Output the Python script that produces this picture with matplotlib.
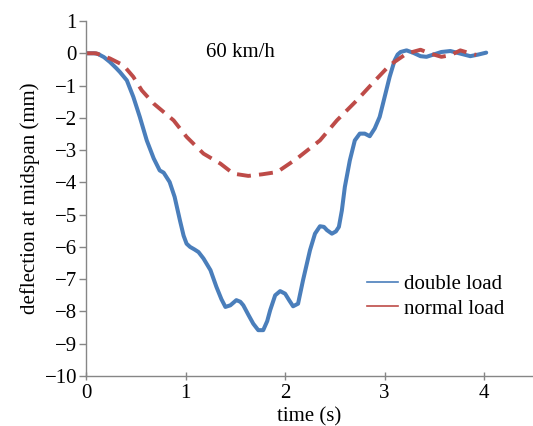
import numpy as np
import matplotlib.pyplot as plt
from matplotlib.lines import Line2D

plt.rcParams['font.family'] = ['Liberation Serif', 'DejaVu Serif']

# double load response (time in s, deflection in mm)
t_double = [0.0, 0.08, 0.12, 0.18, 0.24, 0.30, 0.34, 0.41, 0.475, 0.54, 0.61, 0.68,
            0.74, 0.78, 0.84, 0.89, 0.945, 0.98, 1.01, 1.045, 1.09, 1.13, 1.18,
            1.25, 1.31, 1.36, 1.40, 1.45, 1.51, 1.55, 1.58, 1.63, 1.68, 1.73,
            1.78, 1.82, 1.85, 1.90, 1.95, 2.00, 2.04, 2.08, 2.13, 2.18, 2.25,
            2.30, 2.35, 2.39, 2.42, 2.47, 2.51, 2.54, 2.57, 2.60, 2.65, 2.70,
            2.75, 2.80, 2.85, 2.90, 2.95, 3.00, 3.05, 3.10, 3.13, 3.16, 3.22,
            3.29, 3.36, 3.42, 3.49, 3.57, 3.66, 3.76, 3.86, 3.94, 4.02]
d_double = [0.0, 0.0, -0.02, -0.12, -0.27, -0.45, -0.58, -0.84, -1.35, -1.97, -2.70, -3.26,
            -3.63, -3.70, -3.99, -4.45, -5.20, -5.65, -5.90, -6.00, -6.08, -6.16, -6.36,
            -6.72, -7.24, -7.62, -7.86, -7.81, -7.65, -7.70, -7.81, -8.10, -8.38, -8.58,
            -8.58, -8.30, -7.96, -7.50, -7.37, -7.45, -7.65, -7.84, -7.76, -7.03, -6.10,
            -5.59, -5.36, -5.38, -5.48, -5.59, -5.52, -5.38, -4.87, -4.14, -3.32, -2.70,
            -2.49, -2.49, -2.57, -2.33, -1.97, -1.35, -0.73, -0.22, -0.04, 0.04, 0.09,
            0.01, -0.09, -0.11, -0.04, 0.04, 0.07, -0.01, -0.09, -0.04, 0.02]

# normal load response
t_normal = [0.0, 0.10, 0.24, 0.375, 0.475, 0.56, 0.68, 0.88, 1.01, 1.18, 1.35,
            1.48, 1.63, 1.77, 1.92, 2.12, 2.35, 2.52, 2.72, 2.89, 3.05, 3.22,
            3.36, 3.46, 3.57, 3.66, 3.76, 3.89, 3.92]
d_normal = [0.0, 0.0, -0.16, -0.37, -0.73, -1.15, -1.56, -2.08, -2.59, -3.11, -3.42,
            -3.73, -3.80, -3.75, -3.68, -3.26, -2.70, -2.08, -1.46, -0.89, -0.37, -0.01,
            0.11, -0.01, -0.11, -0.06, 0.09, -0.03, -0.05]

blue = '#4a7ebb'
red = '#be4b48'
grey = '#868686'
fs = 15

fig = plt.figure(figsize=(5.33, 4.26), dpi=100)
ax = fig.add_axes([0.1614, 0.1174, 0.8386, 0.8333])

ax.plot(t_double, d_double, color=blue, lw=2.9, solid_capstyle='round',
        solid_joinstyle='round')
red_line, = ax.plot(t_normal, d_normal, color=red, lw=2.8)
red_line.set_dashes([3.6, 2.1])

ax.set_xlim(0, 4.49)
ax.set_ylim(-10, 1)
ax.set_xticks([0, 1, 2, 3, 4])
ax.set_yticks(range(-10, 2))
ax.set_yticklabels([f'\u2212{abs(v)}' if v < 0 else str(v) for v in range(-10, 2)])

for side in ('top', 'right'):
    ax.spines[side].set_visible(False)
for side in ('left', 'bottom'):
    ax.spines[side].set_color(grey)
    ax.spines[side].set_linewidth(1.0)
ax.tick_params(axis='x', direction='inout', length=6, width=1.0, color=grey,
               labelsize=fs, pad=3)
ax.tick_params(axis='y', direction='out', length=5, width=1.0, color=grey,
               labelsize=fs, pad=1.5)

ax.set_xlabel('time (s)', fontsize=fs, labelpad=3)
ax.set_ylabel('deflection at midspan (mm)', fontsize=fs, labelpad=3)

ax.text(1.55, 0.03, '60 km/h', fontsize=fs, ha='center', va='center')

handles = [Line2D([], [], color=blue, lw=1.2, ls='solid'),
           Line2D([], [], color=red, lw=1.2, ls='solid')]
ax.legend(handles, ['double load', 'normal load'], loc='center left',
          bbox_to_anchor=(0.587, 0.224), frameon=False, fontsize=fs,
          handlelength=1.5, handletextpad=0.25, labelspacing=0.25)

fig.savefig('out.png', dpi=100)
